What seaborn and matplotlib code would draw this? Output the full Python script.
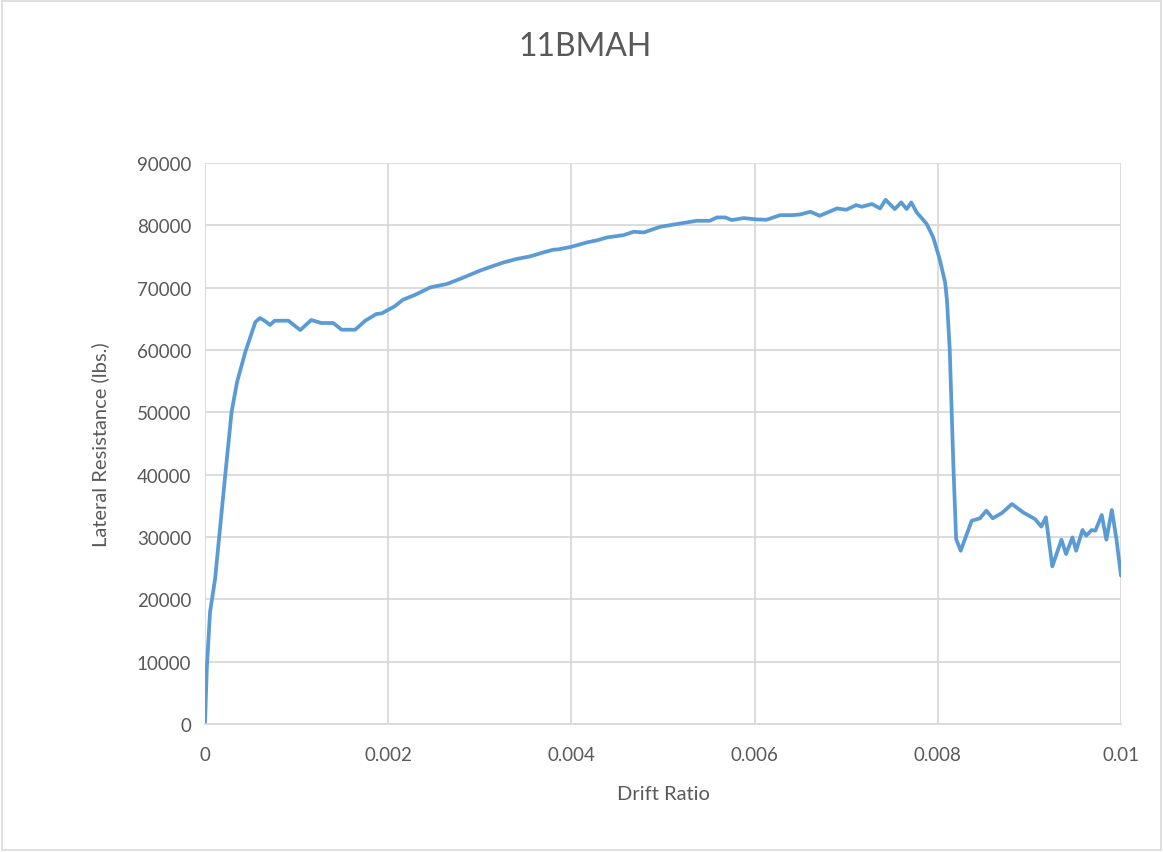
import numpy as np
import pandas as pd
import matplotlib
matplotlib.use("Agg")
import matplotlib.pyplot as plt
import seaborn as sns

# values
drift_ratio = [
    0.0, 0.00002, 0.000055, 0.00011, 0.00016, 0.00022, 0.00029, 0.00035, 0.00044,
    0.00055, 0.0006, 0.00066, 0.00071, 0.00076, 0.00091, 0.00104, 0.00116, 0.00127,
    0.0014, 0.00149, 0.00164, 0.00175, 0.00187, 0.00193, 0.00207, 0.00216, 0.00229,
    0.00246, 0.00264, 0.0028, 0.003, 0.00313, 0.00326, 0.0034, 0.00355, 0.00368,
    0.0038, 0.00386, 0.004, 0.00417, 0.00428, 0.00439, 0.00457, 0.00468, 0.00479,
    0.00497, 0.00519, 0.00537, 0.00551, 0.00559, 0.00568, 0.00575, 0.00588, 0.00602,
    0.00613, 0.00628, 0.00642, 0.0065, 0.00661, 0.00671, 0.0069, 0.007, 0.00711,
    0.00717, 0.00728, 0.00737, 0.00743, 0.00753, 0.0076, 0.00766, 0.00771, 0.00777,
    0.00788, 0.00795, 0.00802, 0.00808, 0.0081, 0.00813, 0.00817, 0.0082, 0.00825,
    0.00837, 0.00846, 0.00853, 0.0086, 0.0087, 0.00881, 0.00893, 0.00906, 0.00913,
    0.00918, 0.00925, 0.00935, 0.0094, 0.00947, 0.00951, 0.00958, 0.00962, 0.00968,
    0.00972, 0.00979, 0.00984, 0.0099, 0.00995, 0.01,
]
lateral_resistance = [
    0, 9000, 17960, 23260, 30800, 39800, 50050, 54860, 59680,
    64490, 65130, 64600, 64010, 64700, 64700, 63200, 64810, 64330,
    64330, 63260, 63260, 64700, 65770, 65880, 67000, 68060, 68820,
    70050, 70590, 71500, 72720, 73400, 74050, 74600, 75020, 75600,
    76080, 76150, 76560, 77260, 77600, 78060, 78430, 78970, 78860,
    79770, 80300, 80730, 80730, 81270, 81270, 80840, 81160, 80950,
    80890, 81640, 81640, 81750, 82180, 81530, 82710, 82500, 83250,
    82980, 83420, 82710, 84100, 82610, 83680, 82610, 83680, 82070,
    80200, 78060, 74590, 70850, 68000, 60160, 41440, 29680, 27800,
    32610, 33000, 34220, 33000, 33850, 35290, 33960, 32890, 31670,
    33160, 25280, 29560, 27270, 29940, 27800, 31120, 30210, 31120,
    31010, 33530, 29560, 34330, 29680, 23800,
]

df = pd.DataFrame({"Drift Ratio": drift_ratio, "Lateral Resistance": lateral_resistance})

sns.set_style("white")
plt.rcParams["font.family"] = ["Lato", "DejaVu Sans"]

text_col = "#595959"
grid_col = "#d9d9d9"

fig = plt.figure(figsize=(11.63, 8.53), dpi=100)
ax = fig.add_axes([205 / 1163, 1 - 725 / 853, 916 / 1163, 561 / 853])

sns.lineplot(data=df, x="Drift Ratio", y="Lateral Resistance", ax=ax,
             sort=False, estimator=None, color="#5b9bd5", linewidth=2.7)

ax.set_xlim(0, 0.01)
ax.set_ylim(0, 90000)
ax.set_xticks([0, 0.002, 0.004, 0.006, 0.008, 0.01])
ax.set_xticklabels(["0", "0.002", "0.004", "0.006", "0.008", "0.01"])
ax.set_yticks(np.arange(0, 90001, 10000))
ax.set_yticklabels([str(v) for v in range(0, 90001, 10000)])
ax.grid(True, color=grid_col, linewidth=1.3)
ax.set_axisbelow(True)
for side in ["top", "right", "left"]:
    ax.spines[side].set_visible(False)
ax.spines["bottom"].set_color(grid_col)
ax.spines["bottom"].set_linewidth(1.3)
ax.tick_params(axis="x", length=0, labelsize=13.5, labelcolor=text_col, pad=16)
ax.tick_params(axis="y", length=0, labelsize=13.5, labelcolor=text_col, pad=10)

ax.set_xlabel("Drift Ratio", fontsize=14.5, color=text_col, labelpad=16)
ax.set_ylabel("Lateral Resistance (lbs.)", fontsize=14.5, color=text_col, labelpad=20)
fig.text(585 / 1163, 1 - 47 / 853, "11BMAH", ha="center", va="center",
         fontsize=23, color=text_col)

# thin frame around the whole chart
fig.patches.append(plt.Rectangle((0.002, 0.002), 0.996, 0.996, transform=fig.transFigure,
                                 fill=False, edgecolor=grid_col, linewidth=1.2))

fig.savefig("out.png", dpi=100)
